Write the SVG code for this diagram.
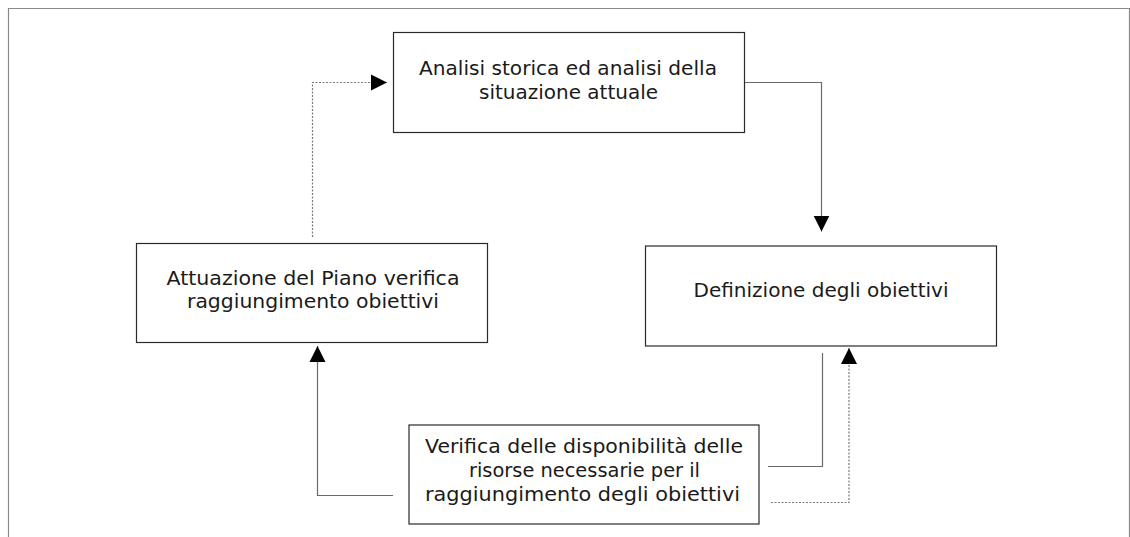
<svg xmlns="http://www.w3.org/2000/svg" width="1130" height="537" viewBox="0 0 1130 537">
  <style>
    .frame { fill: none; stroke: #8a8a8a; stroke-width: 1.2; }
    .box { fill: #ffffff; stroke: #2a2a2a; stroke-width: 1.2; }
    .lbl { font-family: "DejaVu Sans", "Liberation Sans", sans-serif; font-size: 20px; fill: #1a1a1a; text-anchor: middle; }
    .solid { fill: none; stroke: #6a6a6a; stroke-width: 1.2; }
    .dotted { fill: none; stroke: #7a7a7a; stroke-width: 1.2; stroke-dasharray: 2 1.5; }
  </style>
  <defs>
    <marker id="arrow" viewBox="0 0 16 16" refX="16" refY="8" markerWidth="16" markerHeight="17" markerUnits="userSpaceOnUse" orient="auto">
      <path d="M0,0 L16,8 L0,16 Z" fill="#000000"/>
    </marker>
  </defs>
  <rect x="0" y="0" width="1130" height="537" fill="#ffffff"/>
  <path class="frame" d="M8.5,537 V8.5 H1129.5 V537"/>

  <g id="connectors">
    <path class="dotted" d="M312.5,237 V82.5 H387" marker-end="url(#arrow)"/>
    <path class="solid" d="M744,82.5 H821.5 V231.5" marker-end="url(#arrow)"/>
    <path class="solid" d="M393,495.5 H317.5 V346" marker-end="url(#arrow)"/>
    <path class="solid" d="M768,466.5 H822.5 V353"/>
    <path class="dotted" d="M771,502.5 H849 V348" marker-end="url(#arrow)"/>
  </g>

  <g id="node-analisi">
    <rect class="box" x="393.5" y="32.5" width="351" height="100"/>
    <text class="lbl" x="568" y="75" textLength="298" lengthAdjust="spacingAndGlyphs">Analisi storica ed analisi della</text>
    <text class="lbl" x="568.5" y="99" textLength="179" lengthAdjust="spacingAndGlyphs">situazione attuale</text>
  </g>

  <g id="node-attuazione">
    <rect class="box" x="136.5" y="243.5" width="351" height="99"/>
    <text class="lbl" x="313" y="285" textLength="293" lengthAdjust="spacingAndGlyphs">Attuazione del Piano verifica</text>
    <text class="lbl" x="313" y="308" textLength="252" lengthAdjust="spacingAndGlyphs">raggiungimento obiettivi</text>
  </g>

  <g id="node-definizione">
    <rect class="box" x="645.5" y="246" width="351" height="100"/>
    <text class="lbl" x="821" y="297" textLength="255" lengthAdjust="spacingAndGlyphs">Definizione degli obiettivi</text>
  </g>

  <g id="node-verifica">
    <rect class="box" x="409" y="425" width="350" height="99"/>
    <text class="lbl" x="584" y="453" textLength="318" lengthAdjust="spacingAndGlyphs">Verifica delle disponibilità delle</text>
    <text class="lbl" x="584.5" y="477" textLength="231" lengthAdjust="spacingAndGlyphs">risorse necessarie per il</text>
    <text class="lbl" x="582.5" y="501" textLength="315" lengthAdjust="spacingAndGlyphs">raggiungimento degli obiettivi</text>
  </g>
</svg>
